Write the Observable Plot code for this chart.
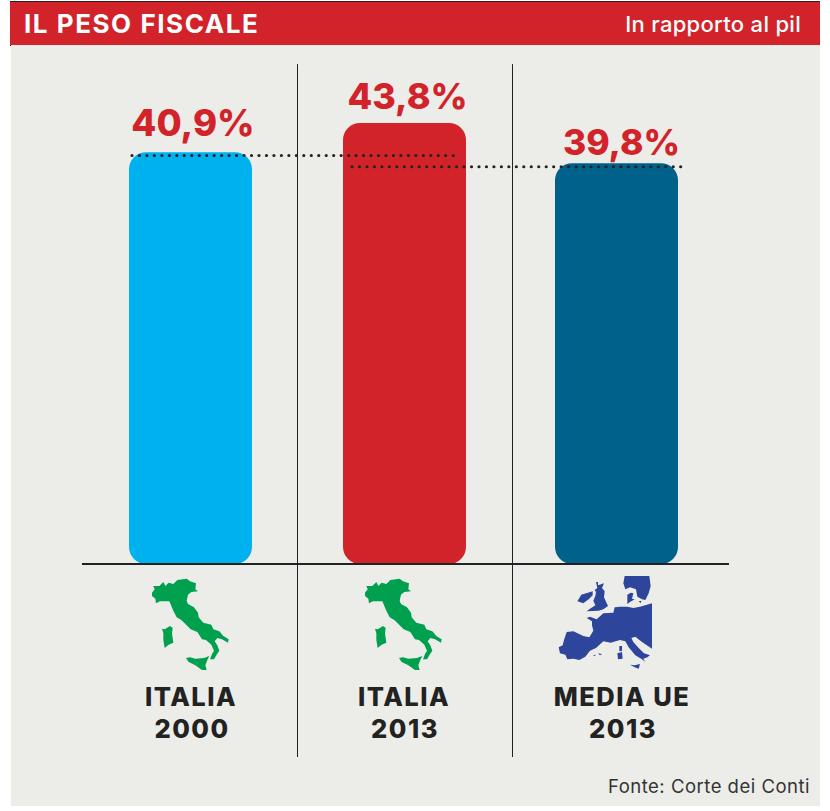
<!DOCTYPE html>
<html>
<head>
<meta charset="utf-8">
<script src="https://cdn.jsdelivr.net/npm/d3@7"></script>
<script src="https://cdn.jsdelivr.net/npm/@observablehq/plot@0.6"></script>
<style>
  html, body { margin: 0; padding: 0; background: #fff; }
  #wrap { position: relative; width: 830px; height: 811px; overflow: hidden; font-family: Inter, sans-serif; }
  #head { position: absolute; left: 10px; top: 1px; width: 810px; height: 45px; background: #d2232a;
          border-top: 1px solid #222; border-bottom: 1px solid #222; box-sizing: border-box; color: #fff; }
  #head .t { position: absolute; left: 14px; top: 7px; font-size: 26px; font-weight: 700; letter-spacing: 1.55px; line-height: 30px; }
  #head .s { position: absolute; right: 19px; top: 9px; font-size: 22px; font-weight: 500; letter-spacing: 0.3px; line-height: 26px; }
  #chart { position: absolute; left: 11px; top: 45px; width: 809px; height: 761px; background: #ecede8; }
  #chart svg { display: block; background: transparent; }
  #chart .names text { letter-spacing: 1.5px; }
  #src { position: absolute; right: 20px; top: 775px; font-size: 18.5px; color: #333; letter-spacing: 0.5px; line-height: 23px; }
</style>
</head>
<body>
<div id="wrap">
  <div id="head"><span class="t">IL PESO FISCALE</span><span class="s">In rapporto al pil</span></div>
  <div id="chart"></div>
  <div id="src">Fonte: Corte dei Conti</div>
</div>
<script>
// Fiscal burden as a share of GDP
const categories = ["ITALIA 2000", "ITALIA 2013", "MEDIA UE 2013"];
const values = [40.9, 43.8, 39.8];
const valueLabels = ["40,9%", "43,8%", "39,8%"];
const barColors = ["#00b1ef", "#d2232a", "#00618a"];
const nameLines = [["ITALIA", "2000"], ["ITALIA", "2013"], ["MEDIA UE", "2013"]];

// Map icon outlines, in local icon units
const italyShape = [
  [[100,78],[118,78],[130,66],[136,78],[146,68],[160,72],[172,60],[200,56],[210,64],[228,70],[226,88],[234,94],[214,96],[204,104],[200,122],[204,132],[222,142],[234,158],[236,172],[250,188],[274,194],[280,208],[298,214],[310,228],[326,238],[324,248],[306,238],[292,234],[284,244],[292,256],[298,272],[290,284],[282,298],[270,298],[276,282],[282,272],[274,254],[258,240],[246,238],[232,216],[212,208],[184,180],[170,172],[160,152],[148,124],[132,124],[120,124],[108,130],[106,116],[96,108],[96,98],[104,88]],
  [[126,206],[134,208],[150,198],[158,204],[156,220],[160,248],[146,254],[134,264],[130,240],[130,220]],
  [[198,294],[210,292],[226,296],[252,294],[268,288],[262,300],[256,316],[260,330],[246,330],[226,316],[206,306]]
];
const europeShape = [
  [[336,130],[300,140],[280,144],[262,140],[240,140],[224,142],[220,158],[190,160],[170,178],[150,170],[140,174],[156,184],[156,196],[160,212],[148,232],[130,228],[100,214],[80,216],[72,240],[68,256],[56,262],[60,280],[76,284],[82,298],[100,296],[118,300],[136,290],[150,272],[168,264],[190,244],[212,248],[240,240],[256,244],[266,262],[286,286],[306,298],[316,306],[310,296],[322,292],[330,286],[312,280],[296,264],[280,246],[274,234],[286,230],[306,246],[336,266]],
  [[270,314],[284,316],[300,312],[296,326],[284,322]],
  [[238,258],[246,258],[246,272],[238,274]],
  [[232,280],[246,276],[248,296],[234,298]],
  [[158,286],[166,284],[166,288]],
  [[174,280],[186,282],[180,286]],
  [[112,124],[124,104],[158,94],[158,106],[146,118],[130,130]],
  [[168,66],[174,66],[174,76],[192,70],[186,84],[194,94],[192,112],[204,138],[190,148],[176,152],[140,154],[150,146],[166,136],[160,122],[166,108],[168,96],[164,90],[172,84]],
  [[254,48],[328,48],[332,78],[326,100],[316,120],[306,118],[292,110],[288,88],[270,82],[256,88],[250,70]],
  [[262,104],[272,98],[280,100],[276,116],[284,118],[270,126],[262,132]],
  [[296,124],[304,122],[302,130]]
];
const icons = [
  {shape: italyShape, fill: "#00a04f", dx: -70.5},
  {shape: italyShape, fill: "#00a04f", dx: -70.5},
  {shape: europeShape, fill: "#2e459c", dx: -76.5}
];

const rows = categories.map((c, i) => ({
  category: c, value: values[i], label: valueLabels[i], color: barColors[i],
  line1: nameLines[i][0], line2: nameLines[i][1], icon: icons[i]
}));

// Silhouettes sit under the baseline, centred on each band
function iconMark(index, scales) {
  const g = d3.create("svg:g");
  const band = scales.x.bandwidth();
  rows.forEach(r => {
    const cx = scales.x(r.category) + band / 2;
    g.append("path")
      .attr("transform", `translate(${cx + r.icon.dx},${scales.y(0) - 4}) scale(${1 / 3})`)
      .attr("fill", r.icon.fill)
      .attr("d", r.icon.shape.map(p => "M" + p.join("L") + "Z").join(""));
  });
  return g.node();
}

// Value label above each bar; the gap differs column by column
const labelOffsets = [[2, -28], [3.5, -26.5], [4.5, -20]];
const labelSizes = [36.5, 36, 35.5];
const barShift = [0, 1, 0];
const nameShift = [0, 0, 5];

const dotted = {stroke: "#222", strokeWidth: 3.2, strokeDasharray: "0 7.47", strokeLinecap: "round"};

const chart = Plot.plot({
  width: 809,
  height: 725,
  marginTop: 0, marginBottom: 0, marginLeft: 0, marginRight: 0,
  style: {background: "transparent", fontFamily: "Inter, sans-serif"},
  x: {type: "band", domain: categories, range: [28, 757], padding: 0.4225, axis: null},
  y: {domain: [0, 43.8], range: [519, 78], axis: null},
  marks: [
    ...rows.map((r, i) => Plot.barY([r], {x: "category", y: "value", fill: "color", rx: 17, dx: barShift[i]})),
    // column dividers
    Plot.ruleX([categories[1]], {x: d => d, dx: -106.5, y1: () => -19.17, y2: () => 49.65, stroke: "#222", strokeWidth: 1}),
    Plot.ruleX([categories[2]], {x: d => d, dx: -104.5, y1: () => -19.17, y2: () => 49.65, stroke: "#222", strokeWidth: 1}),
    // baseline
    Plot.ruleY([0], {x1: () => categories[0], x2: () => categories[2], insetLeft: -47, insetRight: -51, dy: -0.5,
      stroke: "#222", strokeWidth: 2}),
    // reference levels across neighbouring bars
    Plot.ruleY([values[0]], {x1: () => categories[0], x2: () => categories[1], insetLeft: 3, insetRight: 8, dy: 2.8, ...dotted}),
    Plot.ruleY([values[2]], {x1: () => categories[1], x2: () => categories[2], insetLeft: 10, insetRight: -7, dy: 3, ...dotted}),
    ...rows.map((r, i) => Plot.text([r], {x: "category", y: "value", text: "label",
      dx: labelOffsets[i][0], dy: labelOffsets[i][1], fill: "#d2232a", fontSize: labelSizes[i], fontWeight: 800})),
    iconMark,
    ...rows.map((r, i) => Plot.text([r], {x: "category", y: () => 0, text: "line1", dx: nameShift[i], dy: 133,
      fill: "#222", fontSize: 25.5, fontWeight: 800, className: "names"})),
    ...rows.map((r, i) => Plot.text([r], {x: "category", y: () => 0, text: "line2", dx: nameShift[i] + 1, dy: 165,
      fill: "#222", fontSize: 25.5, fontWeight: 800, className: "names"}))
  ]
});
document.getElementById("chart").appendChild(chart);
</script>
</body>
</html>
